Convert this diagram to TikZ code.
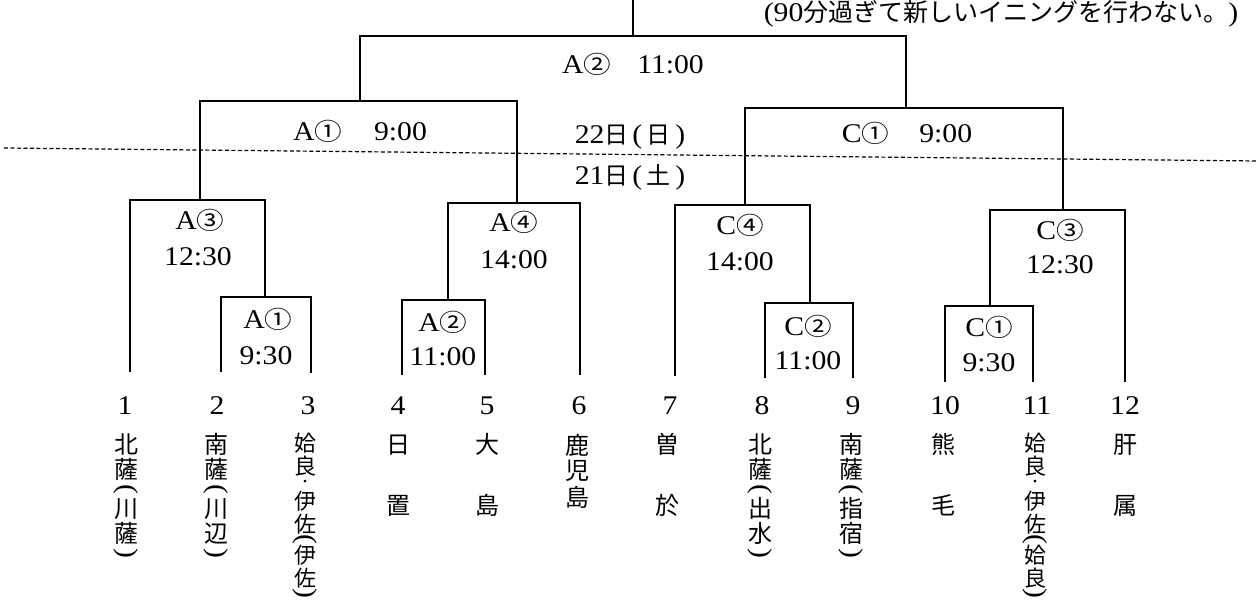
\documentclass[tikz,border=0pt]{standalone}
\usepackage{fontspec}
\usepackage{graphicx}
\setmainfont{Liberation Serif}[FakeStretch=1.1]
\newfontfamily\jpf{Noto Sans CJK JP}
\newfontfamily\cirf{Noto Sans CJK JP}[FakeStretch=1.15]
\newcommand\latsz{\fontsize{27}{30}\selectfont}
\newcommand\jpsz{\jpf\fontsize{24}{26}\selectfont}
\newcommand\cir[1]{{\cirf\fontsize{24}{26}\selectfont #1}}
\newcommand\jc[1]{{\jpsz #1}}
\newcommand\jn[1]{{\jpf\fontsize{25}{27}\selectfont #1}}
\newcommand\vk[2][25pt]{\hbox to 30pt{\hss\vbox to #1{\vss\hbox{\jpsz #2}\vss}\hss}}
\newcommand\vks[2][22.5pt]{\hbox to 30pt{\hss\vbox to #1{\vss\hbox{\jpf\fontsize{22}{24}\selectfont #2}\vss}\hss}}
\newcommand\vpo[1][14pt]{\hbox to 30pt{\hss\vbox to #1{\vss\hbox{\latsz\rotatebox{-90}{(}}\vss}\hss}}
\newcommand\vpc[1][14pt]{\hbox to 30pt{\hss\vbox to #1{\vss\hbox{\latsz\rotatebox{-90}{)}}\vss}\hss}}
\newcommand\vdt[1][13pt]{\hbox to 30pt{\hss\vbox to #1{\vss\hbox{\jpf\fontsize{13}{13}\selectfont ・}\vss}\hss}}
\newcommand\vcol[1]{\vbox{\offinterlineskip #1}}
\tikzset{
  br/.style={line width=1.7pt},
  dayline/.style={line width=1.2pt, dash pattern=on 4pt off 2.5pt},
  lab/.style={inner sep=0pt, font=\latsz},
  num/.style={inner sep=0pt, font=\latsz},
  vname/.style={inner sep=0pt, anchor=north},
  note/.style={inner sep=0pt, anchor=base, font=\latsz}
}
\begin{document}
\begin{tikzpicture}[x=1pt,y=-1pt]
\useasboundingbox[fill=white] (0,0) rectangle (1257,601);
% leaves
\coordinate (l1) at (130,372);
\coordinate (l2) at (221,372);
\coordinate (l3) at (311,373);
\coordinate (l4) at (402,375);
\coordinate (l5) at (485,375);
\coordinate (l6) at (580,375);
\coordinate (l7) at (675,376);
\coordinate (l8) at (765,378);
\coordinate (l9) at (853,378);
\coordinate (l10) at (945,382);
\coordinate (l11) at (1033,382);
\coordinate (l12) at (1125,382);
% matches
\coordinate (iA1) at (265,297);
\coordinate (mA3) at (200,200);
\coordinate (iA2) at (448,300);
\coordinate (mA4) at (517,203);
\coordinate (mA1) at (360,101);
\coordinate (iC2) at (810,303);
\coordinate (mC4) at (745,205);
\coordinate (iC1) at (990,306);
\coordinate (mC3) at (1063,210);
\coordinate (mC1) at (906,108);
\coordinate (mA2) at (633,36);
\coordinate (top) at (633,-2);
% day boundary
\coordinate (dL) at (4,148);
\coordinate (dR) at (1257,161);
\draw[dayline] (dL) -- (dR);
% bracket lines
\draw[br] (l2) |- (iA1) -| (l3);
\draw[br] (l1) |- (mA3) -| (iA1);
\draw[br] (l4) |- (iA2) -| (l5);
\draw[br] (iA2) |- (mA4) -| (l6);
\draw[br] (mA3) |- (mA1) -| (mA4);
\draw[br] (l8) |- (iC2) -| (l9);
\draw[br] (l7) |- (mC4) -| (iC2);
\draw[br] (l10) |- (iC1) -| (l11);
\draw[br] (iC1) |- (mC3) -| (l12);
\draw[br] (mC4) |- (mC1) -| (mC3);
\draw[br] (mA1) |- (mA2) -| (mC1);
\draw[br] (mA2) -- (top);
% note
\node[note] (nt) at (1001,22) {(90\jn{分過ぎて新しいイニングを行わない。})};
% match labels
\node[lab] (tA2) at (633,64) {A\cir{②}\hspace{26pt}11:00};
\node[lab] (tA1) at (360,131) {A\cir{①}\hspace{32pt}9:00};
\node[lab] (tC1) at (907,133) {C\cir{①}\hspace{30pt}9:00};
\node[lab] (d22) at (630,137) {22\jc{日}\hspace{4pt}(\,\jc{日}\,)};
\node[lab] (d21) at (630,177) {21\jc{日}\hspace{4pt}(\,\jc{土}\,)};
\node[lab] (tA3) at (200,220) {A\cir{③}};
\node[lab] (hA3) at (198,257) {12:30};
\node[lab] (tiA1) at (268,319) {A\cir{①}};
\node[lab] (hiA1) at (266,356) {9:30};
\node[lab] (tA4) at (514,222) {A\cir{④}};
\node[lab] (hA4) at (514,260) {14:00};
\node[lab] (tiA2) at (443,322) {A\cir{②}};
\node[lab] (hiA2) at (443,357) {11:00};
\node[lab] (tC4) at (740,225) {C\cir{④}};
\node[lab] (hC4) at (740,262) {14:00};
\node[lab] (tiC2) at (808,326) {C\cir{②}};
\node[lab] (hiC2) at (808,361) {11:00};
\node[lab] (tC3) at (1060,230) {C\cir{③}};
\node[lab] (hC3) at (1060,265) {12:30};
\node[lab] (tiC1) at (989,327) {C\cir{①}};
\node[lab] (hiC1) at (989,363) {9:30};
% numbers
\node[num] (n1) at (125,406) {1};
\node[num] (n2) at (217,406) {2};
\node[num] (n3) at (308,406) {3};
\node[num] (n4) at (398,406) {4};
\node[num] (n5) at (487,406) {5};
\node[num] (n6) at (579,406) {6};
\node[num] (n7) at (670,406) {7};
\node[num] (n8) at (762,406) {8};
\node[num] (n9) at (853,406) {9};
\node[num] (n10) at (945,406) {10};
\node[num] (n11) at (1037,406) {11};
\node[num] (n12) at (1125,406) {12};
% names
\node[vname] (s1) at (126,432) {\vcol{\vk{北}\vk{薩}\vpo\vk{川}\vk{薩}\vpc}};
\node[vname] (s2) at (216,432) {\vcol{\vk{南}\vk{薩}\vpo\vk{川}\vk{辺}\vpc}};
\node[vname] (s3) at (305,432) {\vcol{\vks{姶}\vks{良}\vdt\vks{伊}\vks{佐}\vpo[9pt]\vks{伊}\vks{佐}\vpc[9pt]}};
\node[vname] (s4) at (398,432) {\vcol{\vk{日}\vskip36pt\vk{置}}};
\node[vname] (s5) at (487,432) {\vcol{\vk{大}\vskip36pt\vk{島}}};
\node[vname] (s6) at (577,432) {\vcol{\vk[26pt]{鹿}\vk[26pt]{児}\vk[26pt]{島}}};
\node[vname] (s7) at (667,432) {\vcol{\vk{曽}\vskip36pt\vk{於}}};
\node[vname] (s8) at (760,432) {\vcol{\vk{北}\vk{薩}\vpo\vk{出}\vk{水}\vpc}};
\node[vname] (s9) at (851,432) {\vcol{\vk{南}\vk{薩}\vpo\vk{指}\vk{宿}\vpc}};
\node[vname] (s10) at (943,432) {\vcol{\vk{熊}\vskip36pt\vk{毛}}};
\node[vname] (s11) at (1035,432) {\vcol{\vks{姶}\vks{良}\vdt\vks{伊}\vks{佐}\vpo[9pt]\vks{姶}\vks{良}\vpc[9pt]}};
\node[vname] (s12) at (1125,432) {\vcol{\vk{肝}\vskip36pt\vk{属}}};
\end{tikzpicture}
\end{document}
